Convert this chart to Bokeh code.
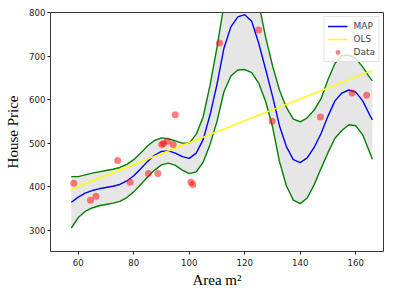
from bokeh.plotting import figure
from bokeh.models import FixedTicker, Range1d, Legend
from bokeh.embed import file_html
from bokeh.resources import INLINE

# ---- data ----
grid_area = [57.5, 60, 62.5, 65, 67.5, 70, 72.5, 75, 77.5, 80, 82.5, 85, 87.5, 90,
             92.5, 95, 97.5, 100, 102.5, 105, 107.5, 110, 112.5, 115, 117.5, 120,
             122.5, 125, 127.5, 130, 132.5, 135, 137.5, 140, 142.5, 145, 147.5,
             150, 152.5, 155, 157.5, 160, 162.5, 165, 166]
map_price = [364, 376, 385, 391, 395, 398, 401, 405, 413, 425, 441, 458, 472, 481,
             482, 477, 469, 465, 477, 508, 565, 635, 718, 767, 790, 795,
             780, 730, 670, 608, 540, 492, 462, 455, 466, 490, 522,
             562, 597, 615, 622, 617, 597, 565, 553]
band_halfwidth = [59, 47, 42, 40, 39, 39, 39, 39, 38, 37, 36, 36, 34, 31,
                  28, 28, 31, 35, 43, 52, 68, 85, 100, 113, 122, 126,
                  118, 92, 74, 70, 82, 90, 93, 94, 92, 86, 80,
                  84, 86, 86, 80, 77, 78, 86, 90]
ols_area = [57.5, 166]
ols_price = [394, 667]
data_area = [58.4, 64.4, 66.4, 74.2, 78.7, 85.3, 88.7, 90.1, 90.7, 92.1, 94.2, 94.95,
             100.6, 101.3, 110.9, 125.0, 129.9, 147.3, 158.7, 163.9]
data_price = [408, 369, 378, 460, 410, 430, 430, 497, 499, 504, 497, 565,
              410, 405, 730, 760, 550, 560, 615, 610]
x_ticks = [60, 80, 100, 120, 140, 160]
y_ticks = [300, 400, 500, 600, 700, 800]

upper = [m + s for m, s in zip(map_price, band_halfwidth)]
lower = [m - s for m, s in zip(map_price, band_halfwidth)]

p = figure(frame_width=333, frame_height=239, output_backend="svg",
           toolbar_location=None, x_range=Range1d(50, 170), y_range=Range1d(251, 800),
           min_border_left=50, min_border_right=10, min_border_top=12, min_border_bottom=44,
           background_fill_color="white", border_fill_color="white")
p.grid.visible = False
p.outline_line_color = "#222222"
p.outline_line_width = 0.9

p.varea(x=grid_area, y1=lower, y2=upper, fill_color="#808080", fill_alpha=0.2)
p.line(grid_area, upper, line_color="#008000", line_width=1.4)
p.line(grid_area, lower, line_color="#008000", line_width=1.4)
r_map = p.line(grid_area, map_price, line_color="#0000ff", line_width=1.4)
r_ols = p.line(ols_area, ols_price, line_color="#ffff00", line_width=1.4)
r_dat = p.scatter(data_area, data_price, size=7, fill_color="#ff0000", fill_alpha=0.5,
                  line_color=None)

for ax in (p.xaxis[0], p.yaxis[0]):
    ax.axis_line_color = None
    ax.major_tick_line_color = "#222222"
    ax.major_tick_in = 0
    ax.major_tick_out = 3
    ax.minor_tick_line_color = None
    ax.major_label_text_font = "DejaVu Sans"
    ax.major_label_text_font_size = "8.6px"
    ax.major_label_text_color = "#222222"
    ax.axis_label_text_font = "Liberation Serif"
    ax.axis_label_text_font_style = "normal"
    ax.axis_label_text_font_size = "15px"
    ax.axis_label_text_color = "black"

p.xaxis.ticker = FixedTicker(ticks=x_ticks)
p.yaxis.ticker = FixedTicker(ticks=y_ticks)
p.xaxis.axis_label = "Area m²"
p.yaxis.axis_label = "House Price"
p.xaxis.major_label_standoff = 4
p.yaxis.major_label_standoff = 2
p.xaxis.axis_label_standoff = 3
p.yaxis.axis_label_standoff = 5

legend = Legend(items=[("MAP", [r_map]), ("OLS", [r_ols]), ("Data", [r_dat])],
                location="top_right", margin=4, padding=3, spacing=1,
                glyph_width=20, glyph_height=12, label_height=12, label_standoff=6,
                label_text_font="DejaVu Sans", label_text_font_size="9px",
                border_line_color="#cccccc", border_line_width=1,
                background_fill_alpha=0.8)
p.add_layout(legend)

open("out.html", "w").write(file_html(p, INLINE))
